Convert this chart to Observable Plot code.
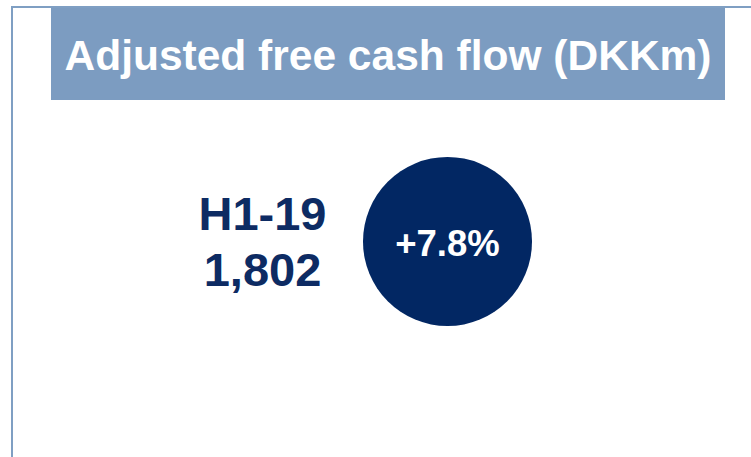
<!DOCTYPE html>
<html>
<head>
<meta charset="utf-8">
<script src="https://cdn.jsdelivr.net/npm/d3@7"></script>
<script src="https://cdn.jsdelivr.net/npm/@observablehq/plot@0.6"></script>
<style>
  html, body { margin: 0; padding: 0; background: #fff; }
  #card { position: relative; width: 751px; height: 457px; overflow: hidden; font-family: "Liberation Sans", Arial, sans-serif; }
  #chart { position: absolute; left: 0; top: 0; }
  #borderTop { position: absolute; left: 11px; top: 6px; width: 740px; height: 2px; background: #7F9FC3; }
  #borderLeft { position: absolute; left: 11px; top: 6px; width: 2px; height: 451px; background: #7F9FC3; }
  #header { position: absolute; left: 51px; top: 8px; width: 674px; height: 92px; background: #7C9CC1;
            color: #fff; font-weight: bold; font-size: 42.5px; text-align: center; line-height: 96px; white-space: nowrap; }
</style>
</head>
<body>
<div id="card">
  <div id="chart"></div>
  <div id="borderTop"></div>
  <div id="borderLeft"></div>
  <div id="header"></div>
</div>
<script>
const title = "Adjusted free cash flow (DKKm)";
const periods = ["H1-19"];
const values = [1802];
const changes = ["+7.8%"];
const slots = ["level", "growth"];

document.getElementById("header").textContent = title;

const kpi = periods.map((p, i) => ({slot: slots[0], row: "kpi", label: p + "\n" + d3.format(",")(values[i])}));
const growth = changes.map(c => ({slot: slots[1], row: "kpi", label: c}));

const chart = Plot.plot({
  width: 751,
  height: 457,
  margin: 0,
  style: {background: "transparent"},
  x: {type: "point", domain: slots, range: [262, 447], padding: 0, axis: null},
  y: {type: "point", domain: ["kpi"], range: [241, 241], padding: 0, axis: null},
  marks: [
    Plot.dot(growth, {x: "slot", y: "row", r: 84.5, fill: "#022763", stroke: "none"}),
    Plot.text(growth, {x: "slot", y: "row", text: "label", fill: "#fff", fontSize: 36.5, fontWeight: "bold",
      fontFamily: "Liberation Sans, Arial, sans-serif", dy: 3}),
    Plot.text(kpi, {x: "slot", y: "row", text: "label", fill: "#0D2B63", fontSize: 47, fontWeight: "bold",
      fontFamily: "Liberation Sans, Arial, sans-serif", lineHeight: 1.19, lineAnchor: "middle", dy: -1})
  ]
});
document.getElementById("chart").appendChild(chart);
</script>
</body>
</html>
